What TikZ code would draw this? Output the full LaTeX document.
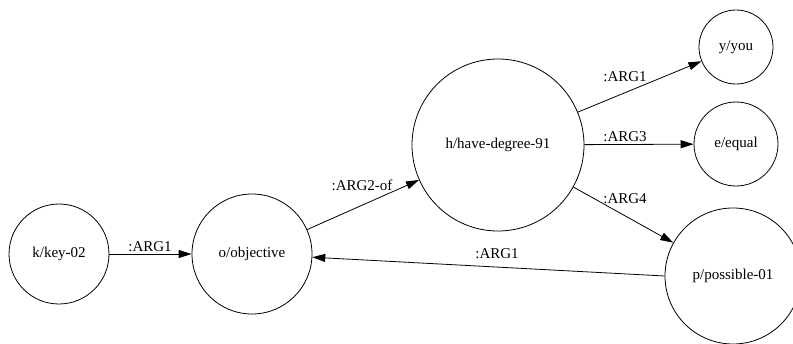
\documentclass[tikz,border=0pt]{standalone}
\usepackage{fontspec}
\setmainfont{Liberation Serif}
\usetikzlibrary{arrows.meta}
\begin{document}
\begin{tikzpicture}[x=1pt,y=-1pt,
  nd/.style={draw, circle, line width=0.8pt, inner sep=0pt, font=\fontsize{15}{17}\selectfont},
  lbl/.style={inner sep=0pt, font=\fontsize{15}{17}\selectfont},
  edge/.style={draw, line width=0.8pt, -{Triangle[length=13pt,width=8pt]}}]
\useasboundingbox (0,0) rectangle (793,343);
\node[nd, minimum size=100pt] (k) at (59,254) {k/key-02};
\node[nd, minimum size=120pt] (o) at (252,254) {o/objective};
\node[nd, minimum size=172pt] (h) at (498,145) {h/have-degree-91};
\node[nd, minimum size=74pt] (y) at (736,47) {y/you};
\node[nd, minimum size=84pt] (e) at (736,144) {e/equal};
\node[nd, minimum size=136pt] (p) at (733,276) {p/possible-01};
\draw[edge] (k) -- (o);
\draw[edge] (o) -- (h);
\draw[edge] (h) -- (y);
\draw[edge] (h) -- (e);
\draw[edge] (h) -- (p);
\draw[edge] (p.west) -- (o);
\node[lbl] (l1) at (150,247) {:ARG1};
\node[lbl] (l2) at (362,185) {:ARG2-of};
\node[lbl] (l3) at (625,77) {:ARG1};
\node[lbl] (l4) at (625,137) {:ARG3};
\node[lbl] (l5) at (625,199) {:ARG4};
\node[lbl] (l6) at (497,254) {:ARG1};
\end{tikzpicture}
\end{document}
